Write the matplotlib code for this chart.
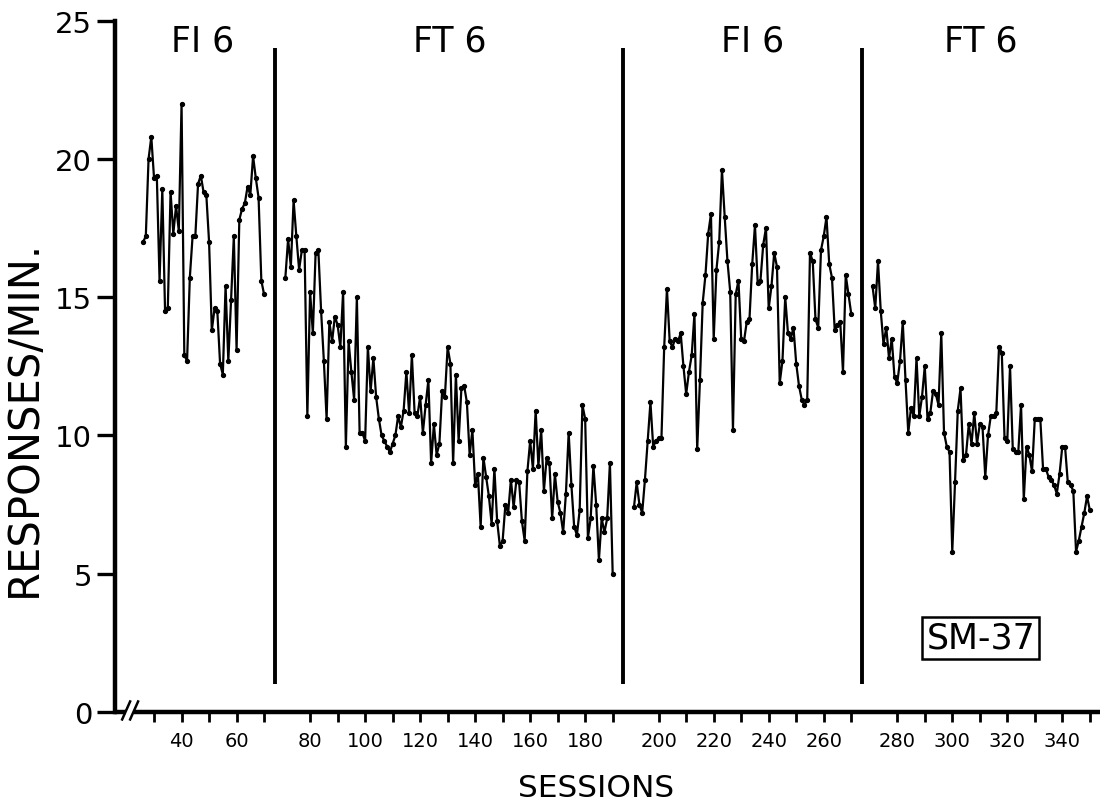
import numpy as np
import matplotlib
matplotlib.use("Agg")
import matplotlib.pyplot as plt

# ============================================
# DATA (responses per minute, one value per session)
# ============================================

phase_names = ["FI 6", "FT 6", "FI 6", "FT 6"]
phase_starts = [26, 71, 191, 271]

fi6_a = [17.0, 17.2, 20.0, 20.8, 19.3, 19.4, 15.6, 18.9, 14.5, 14.6,
         18.8, 17.3, 18.3, 17.4, 22.0, 12.9, 12.7, 15.7, 17.2, 17.2,
         19.1, 19.4, 18.8, 18.7, 17.0, 13.8, 14.6, 14.5, 12.6, 12.2,
         15.4, 12.7, 14.9, 17.2, 13.1, 17.8, 18.2, 18.4, 19.0, 18.7,
         20.1, 19.3, 18.6, 15.6, 15.1]

ft6_a = [15.7, 17.1, 16.1, 18.5, 17.2, 16.0, 16.7, 16.7, 10.7, 15.2,
         13.7, 16.6, 16.7, 14.5, 12.7, 10.6, 14.1, 13.4, 14.3, 14.0,
         13.2, 15.2, 9.6, 13.4, 12.3, 11.3, 15.0, 10.1, 10.1, 9.8,
         13.2, 11.6, 12.8, 11.4, 10.6, 10.0, 9.8, 9.6, 9.4, 9.7,
         10.0, 10.7, 10.3, 10.9, 12.3, 10.8, 12.9, 10.8, 10.7, 11.4,
         10.1, 11.1, 12.0, 9.0, 10.4, 9.3, 9.7, 11.6, 11.4, 13.2,
         12.6, 9.0, 12.2, 9.8, 11.7, 11.8, 11.2, 9.3, 10.2, 8.2,
         8.6, 6.7, 9.2, 8.5, 7.8, 6.8, 8.8, 6.9, 6.0, 6.2,
         7.5, 7.2, 8.4, 7.4, 8.4, 8.3, 6.9, 6.2, 8.7, 9.8,
         8.8, 10.9, 8.9, 10.2, 8.0, 9.2, 9.0, 7.0, 8.6, 7.6,
         7.2, 6.5, 7.9, 10.1, 8.2, 6.7, 6.4, 7.3, 11.1, 10.6,
         6.3, 7.0, 8.9, 7.5, 5.5, 7.0, 6.5, 7.0, 9.0, 5.0]

fi6_b = [7.4, 8.3, 7.5, 7.2, 8.4, 9.8, 11.2, 9.6, 9.8, 9.9,
         9.9, 13.2, 15.3, 13.4, 13.2, 13.5, 13.4, 13.7, 12.5, 11.5,
         12.3, 12.9, 14.4, 9.5, 12.0, 14.8, 15.8, 17.3, 18.0, 13.5,
         16.0, 17.0, 19.6, 17.9, 16.3, 15.2, 10.2, 15.1, 15.6, 13.5,
         13.4, 14.1, 14.2, 16.2, 17.6, 15.5, 15.6, 16.9, 17.5, 14.6,
         15.4, 16.6, 16.1, 11.9, 12.7, 15.0, 13.7, 13.5, 13.9, 12.6,
         11.8, 11.3, 11.1, 11.3, 16.6, 16.3, 14.2, 13.9, 16.7, 17.2,
         17.9, 16.2, 15.7, 13.8, 14.0, 14.1, 12.3, 15.8, 15.1, 14.4]

ft6_b = [15.4, 14.6, 16.3, 14.5, 13.3, 13.9, 12.8, 13.5, 12.1, 11.9,
         12.7, 14.1, 12.0, 10.1, 11.0, 10.7, 12.8, 10.7, 11.4, 12.5,
         10.6, 10.8, 11.6, 11.5, 11.1, 13.7, 10.1, 9.6, 9.4, 5.8,
         8.3, 10.9, 11.7, 9.1, 9.3, 10.4, 9.7, 10.8, 9.7, 10.4,
         10.3, 8.5, 10.0, 10.7, 10.7, 10.8, 13.2, 13.0, 9.9, 9.8,
         12.5, 9.5, 9.4, 9.4, 11.1, 7.7, 9.6, 9.3, 8.7, 10.6,
         10.6, 10.6, 8.8, 8.8, 8.5, 8.4, 8.2, 7.9, 8.6, 9.6,
         9.6, 8.3, 8.2, 8.0, 5.8, 6.2, 6.7, 7.2, 7.8, 7.3]

phase_values = [fi6_a, ft6_a, fi6_b, ft6_b]

# tick sessions inside each phase (every 10, labelled every 20)
phase_ticks = [range(30, 71, 10), range(80, 191, 10),
               range(200, 271, 10), range(280, 351, 10)]

y_ticks = [0, 5, 10, 15, 20, 25]

# ============================================
# LAYOUT
# ============================================

GAP = 6.73          # extra axis room left between two phases
LW_AXIS = 3.2


def pos(session, phase):
    """Axis position of a session: each phase is shifted by one gap."""
    return np.asarray(session, dtype=float) + GAP * phase


fig = plt.figure(figsize=(11.1, 8.03), dpi=100)
ax = fig.add_axes([0.1036, 0.1121, 0.8874, 0.8609])

x_left, x_right = 15.8, 373.9
ax.set_xlim(x_left, x_right)
ax.set_ylim(0, 25)

# data
for k, (start, vals) in enumerate(zip(phase_starts, phase_values)):
    s = np.arange(start, start + len(vals))
    ax.plot(pos(s, k), vals, color="black", lw=1.6,
            marker="o", ms=2.8, clip_on=False)

# phase separators
for k in range(3):
    last = phase_starts[k] + len(phase_values[k]) - 1
    xb = (pos(last, k) + pos(last + 1, k + 1)) / 2
    ax.plot([xb, xb], [1.0, 24.0], color="black", lw=2.8,
            solid_capstyle="butt")

# phase names
label_pos = [47.5, 137.6, 247.5, 330.4]
for name, xp in zip(phase_names, label_pos):
    ax.text(xp, 24.3, name, ha="center", va="center", fontsize=25)

# subject id
ax.text(330.6, 2.68, "SM-37", ha="center", va="center", fontsize=25,
        bbox=dict(boxstyle="square,pad=0.12", fc="white", ec="black", lw=1.8))

# axes styling
for side in ("top", "right", "bottom"):
    ax.spines[side].set_visible(False)
ax.spines["left"].set_linewidth(LW_AXIS)
ax.spines["left"].set_capstyle("projecting")

# x axis drawn by hand because of the break marks
ax.plot([x_left, 19.9], [0, 0], color="black", lw=LW_AXIS,
        solid_capstyle="butt", clip_on=False)
ax.plot([22.8, x_right], [0, 0], color="black", lw=LW_AXIS,
        solid_capstyle="butt", clip_on=False)
for x0 in (18.4, 21.3):
    ax.plot([x0, x0 + 2.9], [-0.27, 0.38], color="black", lw=1.8,
            clip_on=False)

xt, xl = [], []
for k, rng in enumerate(phase_ticks):
    for s in rng:
        xt.append(float(pos(s, k)))
        xl.append(str(s) if s % 20 == 0 else "")
ax.set_xticks(xt)
ax.set_xticklabels(xl)
ax.tick_params(axis="x", direction="out", length=7.5, width=2.0,
               pad=6, labelsize=14)

ax.set_yticks(y_ticks)
ax.set_yticklabels([str(v) for v in y_ticks])
ax.tick_params(axis="y", direction="out", length=13, width=2.4,
               pad=3.5, labelsize=21)

fig.text(24 / 1110, 1 - 418 / 803, "RESPONSES/MIN.", rotation=90,
         ha="center", va="center", fontsize=30)
fig.text(596 / 1110, 1 - 797 / 803, "SESSIONS", ha="center",
         va="baseline", fontsize=22.5)

fig.savefig("out.png", dpi=100)
plt.close(fig)
